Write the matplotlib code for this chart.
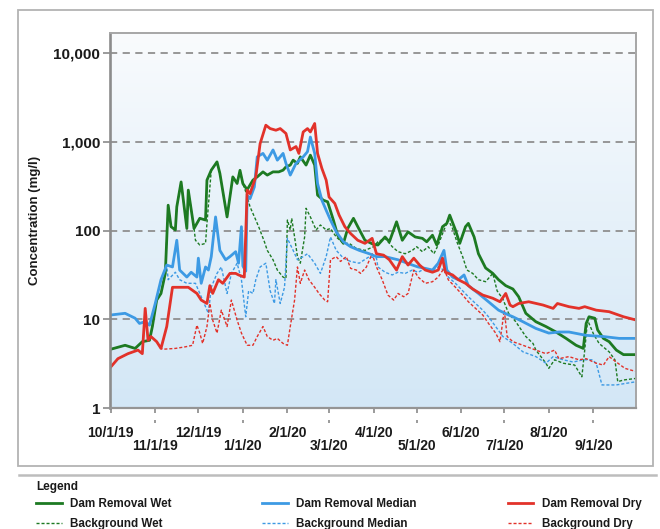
import matplotlib
matplotlib.use("Agg")
import matplotlib.pyplot as plt
import matplotlib.dates as mdates
import matplotlib.ticker as mticker
from matplotlib.colors import LinearSegmentedColormap
from matplotlib.lines import Line2D
from matplotlib.patches import Rectangle
import numpy as np
import pandas as pd

plt.rcParams['font.family'] = ['Liberation Sans', 'DejaVu Sans']
plt.rcParams['font.weight'] = 'bold'

start = pd.Timestamp('2019-10-01')

# days after 10/1/19 and concentration (mg/l)
wet_days = [0, 10, 17, 22, 27, 29, 32, 35, 38, 40, 42, 45, 46, 49, 53, 54, 58, 62, 66, 67,
            70, 74, 76, 81, 85, 88, 90, 92, 95, 99, 102, 106, 109, 113, 117, 120, 122, 125, 127, 130,
            132, 136, 139, 142, 144, 148, 151, 155, 158, 162, 165, 169, 172, 177, 183, 186, 191, 194, 199, 203,
            207, 212, 217, 220, 224, 227, 231, 234, 236, 240, 243, 247, 249, 253, 256, 261, 266, 270, 275, 280,
            284, 289, 296, 303, 310, 317, 324, 329, 331, 333, 337, 339, 343, 347, 352, 357, 366]
wet_vals = [4.6, 5.1, 4.7, 5.6, 5.8, 8.3, 16.5, 19.6, 33, 194, 111, 102, 186, 355, 106, 287, 106, 138, 132, 372,
            482, 598, 443, 143, 405, 341, 480, 340, 290, 372, 405, 461, 424, 461, 461, 482, 525, 550, 625, 575,
            681, 550, 712, 550, 252, 221, 212, 132, 89, 72, 106, 138, 111, 78, 70, 69, 85, 75, 126, 78,
            97, 85, 82, 75, 89, 69, 111, 121, 150, 102, 72, 111, 121, 85, 55, 38, 33, 28, 24, 22,
            18, 11.7, 9.4, 8.3, 7.2, 6.1, 5.1, 4.7, 9.0, 10.7, 10.3, 7.6, 6.1, 5.6, 4.5, 4.0, 4.0]

med_days = [0, 10, 17, 20, 24, 27, 31, 35, 39, 43, 46, 48, 53, 56, 60, 61, 63, 66, 68, 70,
            73, 76, 80, 83, 87, 89, 91, 92, 94, 95, 97, 100, 102, 106, 109, 113, 116, 120, 122, 125,
            129, 134, 137, 139, 142, 144, 147, 150, 153, 157, 162, 167, 173, 180, 185, 191, 200, 210, 214, 219,
            224, 228, 232, 234, 238, 242, 246, 249, 256, 263, 270, 277, 280, 287, 296, 305, 312, 319, 331, 343,
            354, 366]
med_vals = [11.2, 11.7, 10.3, 9.0, 9.4, 8.6, 15.1, 28, 41, 39, 78, 36, 30, 34, 30, 49, 25.5, 39, 36, 51,
            143, 60, 47, 51, 58, 43, 111, 40, 35, 250, 230, 312, 681, 745, 625, 815, 625, 745, 575, 424,
            575, 681, 780, 1140, 745, 341, 221, 170, 132, 97, 75, 66, 60, 55, 51, 51, 47, 41, 39, 37.6,
            36, 43, 60, 36, 30, 28, 31.7, 24, 19.6, 15.8, 12.7, 11.2, 10.7, 9.4, 7.9, 7.0, 7.2, 7.2, 6.6, 6.4,
            6.1, 6.1]

dry_days = [0, 5, 12, 19, 22, 24, 26, 28, 32, 35, 39, 43, 48, 54, 60, 63, 67, 69, 71, 75,
            78, 83, 87, 89, 93, 95, 97, 101, 104, 108, 111, 115, 118, 122, 125, 129, 131, 134, 137, 139,
            142, 144, 147, 150, 152, 156, 159, 163, 167, 172, 177, 182, 185, 190, 194, 199, 203, 207, 211, 215,
            219, 224, 228, 231, 233, 238, 242, 247, 252, 259, 266, 271, 275, 278, 280, 284, 291, 301, 308, 311,
            319, 326, 330, 338, 347, 357, 366]
dry_vals = [2.9, 3.6, 4.1, 4.5, 4.1, 13.3, 5.8, 6.4, 5.6, 4.7, 8.3, 23, 23, 23, 19.6, 16.5, 15.1, 24, 19.6, 28,
            25.5, 33, 33, 31.7, 30, 287, 262, 405, 960, 1550, 1420, 1360, 1420, 1250, 815, 890, 745, 1300, 1420, 1300,
            1620, 745, 505, 372, 240, 203, 150, 111, 93, 78, 72, 82, 55, 53, 47, 36, 51, 41, 49, 41,
            36, 34, 36, 49, 34, 31.7, 28, 25.5, 22, 18.8, 17.3, 15.8, 19.6, 14.5, 13.9, 15.1, 15.8, 14.5, 13.3, 15.1,
            13.9, 13.3, 13.9, 12.7, 12.2, 10.7, 9.8]

bg_wet_days = [0, 10, 17, 22, 27, 29, 32, 35, 38, 40, 42, 45, 46, 49, 53, 54, 58, 59, 62, 66,
               67, 70, 74, 76, 81, 85, 88, 90, 92, 94, 97, 101, 103, 107, 109, 113, 116, 120, 122, 123,
               125, 126, 128, 130, 132, 135, 136, 139, 143, 146, 150, 153, 157, 162, 166, 171, 177, 183, 186, 191,
               196, 200, 205, 210, 213, 217, 221, 225, 228, 232, 235, 238, 241, 245, 248, 252, 256, 261, 266, 269,
               273, 277, 282, 289, 294, 296, 303, 305, 309, 315, 323, 328, 330, 332, 336, 340, 347, 351, 353, 357,
               366]
bg_wet_vals = [4.6, 5.1, 4.7, 5.6, 5.8, 8.3, 16.5, 19.6, 33, 194, 111, 102, 186, 355, 106, 287, 106, 78, 69, 72,
               121, 482, 598, 443, 143, 405, 341, 480, 340, 275, 186, 132, 111, 75, 60, 47, 36, 30, 29, 132,
               102, 138, 85, 51, 43, 85, 179, 143, 102, 116, 102, 106, 85, 72, 72, 63, 60, 66, 75, 82,
               66, 58, 55, 60, 66, 58, 66, 55, 69, 102, 132, 106, 75, 51, 36, 33, 28, 26.6, 33, 21,
               17, 11.7, 9.4, 6.4, 5.35, 4.5, 3.2, 2.8, 3.5, 3.2, 3.05, 2.25, 4.5, 9.8, 6.9, 5.35, 4.3, 3.5, 1.98, 2.07,
               2.16]

bg_med_days = [0, 10, 17, 20, 24, 27, 31, 35, 39, 40, 45, 48, 53, 59, 63, 68, 70, 74, 77, 81,
               84, 88, 91, 94, 96, 99, 101, 104, 108, 111, 114, 115, 118, 121, 123, 127, 130, 134, 137, 142,
               146, 150, 153, 157, 162, 167, 173, 180, 185, 186, 191, 196, 200, 205, 210, 214, 219, 224, 228, 232,
               235, 240, 245, 249, 254, 259, 263, 268, 273, 280, 287, 296, 303, 308, 315, 322, 329, 335, 338, 342,
               352, 359, 366]
bg_med_vals = [11.2, 11.7, 10.3, 9.0, 9.4, 8.6, 15.1, 28, 41, 28, 34, 28, 25.5, 25.5, 18, 11.7, 23, 33, 39, 19.6,
               33, 43, 28, 10.7, 21, 19.6, 28, 39, 43, 21, 15.1, 28, 15.1, 23, 82, 60, 47, 51, 55, 43,
               33, 51, 85, 60, 49, 45, 43, 51, 49, 39, 34, 31.7, 34, 33, 36, 34, 37.6, 36, 39, 36,
               30, 25.5, 21, 18, 15.1, 12.7, 10.7, 8.3, 6.4, 5.35, 4.3, 3.8, 3.2, 3.8, 3.5, 3.3, 3.5, 3.5, 3.2, 1.82,
               1.82, 1.9, 1.98]

bg_dry_days = [0, 5, 12, 19, 22, 24, 26, 28, 32, 35, 36, 45, 52, 57, 60, 62, 64, 67, 69, 71,
               74, 77, 81, 84, 88, 91, 95, 99, 102, 106, 109, 113, 116, 120, 123, 125, 128, 130, 132, 135,
               138, 142, 145, 149, 151, 153, 157, 160, 164, 167, 171, 174, 178, 182, 185, 189, 193, 197, 200, 204,
               207, 211, 214, 219, 224, 228, 232, 235, 240, 245, 249, 254, 259, 263, 268, 271, 274, 276, 280, 287,
               296, 303, 309, 312, 319, 326, 331, 338, 343, 347, 352, 358, 366]
bg_dry_vals = [2.9, 3.6, 4.1, 4.5, 4.1, 13.3, 5.8, 6.4, 5.6, 4.7, 4.6, 4.7, 4.9, 5.1, 8.6, 7.0, 5.35, 8.3, 15.1, 9.8,
               7.0, 12.7, 8.3, 16.5, 9.8, 7.0, 5.1, 5.1, 6.4, 8.3, 6.4, 5.8, 6.1, 5.35, 5.1, 8.3, 16.5, 39, 25.5, 36,
               28, 23, 19.6, 16.5, 15.8, 47, 51, 45, 51, 37.6, 36, 33, 39, 55, 39, 28, 18.8, 16.5, 19.6, 18,
               19.6, 36, 30, 25.5, 26.6, 30, 37.6, 28, 23, 18.8, 15.8, 13.3, 11.2, 9.0, 7.0, 5.6, 12.7, 6.4, 5.6, 5.1,
               4.5, 4.1, 4.5, 3.6, 3.8, 3.5, 3.6, 3.2, 3.05, 3.8, 3.3, 2.8, 2.57]

y_ticks = [1, 10, 100, 1000, 10000]
y_labels = ['1', '10', '100', '1,000', '10,000']

green = '#1d7a22'
blue = '#3d9ae4'
red = '#e2322a'


def to_dates(days):
    return start + pd.to_timedelta(days, unit='D')


fig = plt.figure(figsize=(6.6, 5.29), dpi=100)
W, H = 660, 529
pos = [110 / W, 1 - 408 / H, 526 / W, 375 / H]

# gradient background behind the plot
bg = fig.add_axes(pos)
grad = np.linspace(0, 1, 256).reshape(-1, 1)
cmap = LinearSegmentedColormap.from_list('bg', ['#d3e7f6', '#f9fbfd'])
bg.imshow(grad, aspect='auto', cmap=cmap, origin='lower', extent=[0, 1, 0, 1])
bg.axis('off')

ax = fig.add_axes(pos, facecolor='none')
ax.set_yscale('log')

dash = (0, (2.2, 1.4))
ax.plot(to_dates(bg_wet_days), bg_wet_vals, color=green, lw=1.0, ls=dash, label='Background Wet')
ax.plot(to_dates(bg_med_days), bg_med_vals, color=blue, lw=1.0, ls=dash, label='Background Median')
ax.plot(to_dates(bg_dry_days), bg_dry_vals, color=red, lw=1.0, ls=dash, label='Background Dry')
ax.plot(to_dates(wet_days), wet_vals, color=green, lw=2.0, label='Dam Removal Wet')
ax.plot(to_dates(med_days), med_vals, color=blue, lw=2.0, label='Dam Removal Median')
ax.plot(to_dates(dry_days), dry_vals, color=red, lw=2.0, label='Dam Removal Dry')

for yv in y_ticks[1:]:
    ax.axhline(yv, color='#8f8f8f', lw=1.3, ls=(0, (4, 3)), zorder=0.5)

ax.set_ylim(1, 17000)
ax.set_xlim(to_dates(-0.5), to_dates(365.7))

ax.yaxis.set_major_locator(mticker.FixedLocator(y_ticks))
ax.yaxis.set_major_formatter(mticker.FixedFormatter(y_labels))
ax.yaxis.set_minor_locator(mticker.NullLocator())
ax.tick_params(axis='y', length=5, width=1.2, color='#8a8a8a', pad=2,
               labelsize=11, labelcolor='#1a1a1a')

def fmt_date(x, pos=None):
    d = mdates.num2date(x)
    return f"{d.month}/{d.day}/{d.strftime('%y')}"

ax.xaxis.set_major_locator(mdates.MonthLocator(bymonth=[10, 12, 2, 4, 6, 8]))
ax.xaxis.set_minor_locator(mdates.MonthLocator(bymonth=[11, 1, 3, 5, 7, 9]))
ax.xaxis.set_major_formatter(mticker.FuncFormatter(fmt_date))
ax.xaxis.set_minor_formatter(mticker.FuncFormatter(fmt_date))
ax.tick_params(axis='x', which='major', length=3.5, width=1.2, color='#8a8a8a', pad=9.5,
               labelsize=10, labelcolor='#1a1a1a')
ax.tick_params(axis='x', which='minor', length=3.5, width=1.2, color='#8a8a8a', pad=19,
               labelsize=10, labelcolor='#1a1a1a')

# second short mark under the lower-row dates
minor_dates = ax.xaxis.get_minorticklocs()
ax.vlines(minor_dates, -0.041, -0.032, transform=ax.get_xaxis_transform(),
          color='#8a8a8a', lw=1.2, clip_on=False)

for side in ['top', 'right']:
    ax.spines[side].set_color('#a6a6a6')
    ax.spines[side].set_linewidth(1.4)
ax.spines['left'].set_color('#8c8c8c')
ax.spines['left'].set_linewidth(1.9)
ax.spines['bottom'].set_color('#959595')
ax.spines['bottom'].set_linewidth(1.6)

ax.set_ylabel('Concentration (mg/l)', fontsize=9.5, fontweight='bold', color='#1a1a1a')
ax.yaxis.set_label_coords((41 - 110) / 526, 0.5)

# outer frame and legend area
fig.add_artist(Rectangle((18 / W, 1 - 466 / H), 635 / W, 456 / H, transform=fig.transFigure,
                         fill=False, edgecolor='#b3b3b3', lw=1.3))
fig.add_artist(Line2D([19 / W, 656 / W], [1 - 475 / H] * 2, transform=fig.transFigure,
                      color='#bdbdbd', lw=1.8))
fig.text(36 / W, 1 - 487 / H, 'Legend', fontsize=8.5, va='center', ha='left', color='#1a1a1a')

handles, labels = ax.get_legend_handles_labels()
order = [3, 0, 4, 1, 5, 2]
leg = fig.legend([handles[i] for i in order], [labels[i] for i in order],
                 loc='upper left', bbox_to_anchor=(36 / W, 1 - 498 / H), ncol=3,
                 frameon=False, fontsize=8.4, handlelength=2.2, handletextpad=0.7,
                 columnspacing=7.8, labelspacing=0.7, borderpad=0, borderaxespad=0)
for t in leg.get_texts():
    t.set_color('#1a1a1a')

fig.savefig('out.png', dpi=100, facecolor='white')
